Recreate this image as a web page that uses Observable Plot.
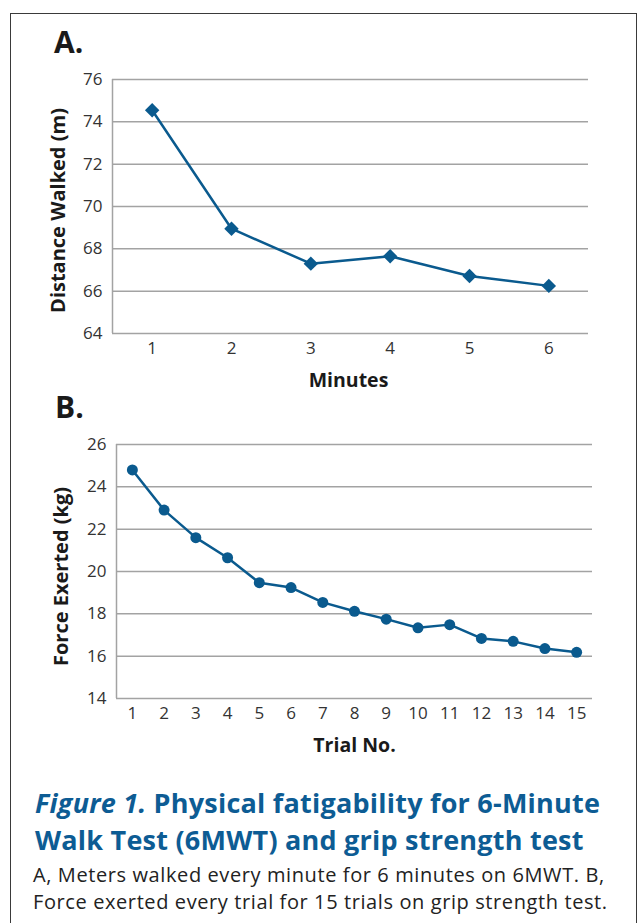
<!DOCTYPE html>
<html>
<head>
<meta charset="utf-8">
<script src="https://cdn.jsdelivr.net/npm/d3@7"></script>
<script src="https://cdn.jsdelivr.net/npm/@observablehq/plot@0.6"></script>
<style>
  html, body { margin: 0; padding: 0; background: #fff; }
  #page { position: relative; width: 642px; height: 923px; overflow: hidden; font-family: "Open Sans", sans-serif; }
  #frame { position: absolute; left: 10px; top: 13px; width: 625px; height: 1000px; border: 1.5px solid #3a3a3a; border-bottom: none; }
  .panel { position: absolute; font-weight: 700; font-size: 30px; line-height: 30px; color: #1a1a1a; }
  .chart { position: absolute; left: 0; }
  #title { position: absolute; left: 35px; top: 784px; font-size: 27px; line-height: 37px; letter-spacing: 0.23px; font-weight: 700; color: #0d5c94; white-space: nowrap; }
  #body { position: absolute; left: 33px; top: 861px; font-size: 20px; line-height: 27.3px; letter-spacing: 0.6px; color: #222; white-space: nowrap; }
</style>
</head>
<body>
<div id="page">
  <div id="frame"></div>
  <div class="panel" style="left:54px; top:27px;">A.</div>
  <div class="chart" id="chartA" style="top:60px;"></div>
  <div class="panel" style="left:55px; top:391.5px;">B.</div>
  <div class="chart" id="chartB" style="top:425px;"></div>
  <div id="title"><i>Figure 1.</i> Physical fatigability for 6-Minute<br>Walk Test (6MWT) and grip strength test</div>
  <div id="body">A, Meters walked every minute for 6 minutes on 6MWT. B,<br>Force exerted every trial for 15 trials on grip strength test.</div>
</div>
<script>
// Panel A data
const minutes = [1, 2, 3, 4, 5, 6];
const distance = [74.55, 68.95, 67.3, 67.65, 66.72, 66.25];
const distanceTicks = [64, 66, 68, 70, 72, 74, 76];
// Panel B data
const trials = [1, 2, 3, 4, 5, 6, 7, 8, 9, 10, 11, 12, 13, 14, 15];
const force = [24.8, 22.9, 21.6, 20.65, 19.47, 19.24, 18.54, 18.12, 17.75, 17.34, 17.49, 16.84, 16.7, 16.36, 16.18];
const forceTicks = [14, 16, 18, 20, 22, 24, 26];

const blue = "#0a5a8e";
const gridGray = "#a3a3a3";
const style = { fontFamily: "'Open Sans', sans-serif", fontSize: "17px", color: "#333", background: "transparent", overflow: "visible" };

const dataA = minutes.map((m, i) => ({ x: m, y: distance[i] }));
const dataB = trials.map((t, i) => ({ x: t, y: force[i] }));

const chartA = Plot.plot({
  width: 642, height: 340,
  marginLeft: 112, marginRight: 54, marginTop: 19, marginBottom: 67,
  style,
  x: { domain: [0.5, minutes.length + 0.5] },
  y: { domain: [distanceTicks[0], distanceTicks[distanceTicks.length - 1]] },
  marks: [
    Plot.gridY({ ticks: distanceTicks, stroke: gridGray, strokeOpacity: 1, strokeWidth: 1.5 }),
    Plot.ruleX([0.5], { stroke: gridGray, strokeWidth: 1.5 }),
    Plot.axisY({ ticks: distanceTicks, tickSize: 0, tickPadding: 10, label: null, fill: "#333" }),
    Plot.axisX({ ticks: minutes, tickSize: 0, tickPadding: 8, label: null, tickFormat: d => String(d), fill: "#333" }),
    Plot.text(["Distance Walked (m)"], { frameAnchor: "left", textAnchor: "middle", rotate: -90, dx: -54, dy: 4, fontWeight: "bold", fontSize: 20, fill: "#1a1a1a" }),
    Plot.text(["Minutes"], { frameAnchor: "bottom", dy: 47, dx: -2, lineAnchor: "middle", fontWeight: "bold", fontSize: 19.5, fill: "#1a1a1a" }),
    Plot.line(dataA, { x: "x", y: "y", stroke: blue, strokeWidth: 2.5 }),
    Plot.dot(dataA, { x: "x", y: "y", symbol: "diamond2", r: 6.5, fill: blue, stroke: "none" })
  ]
});
document.getElementById("chartA").appendChild(chartA);

const chartB = Plot.plot({
  width: 642, height: 335,
  marginLeft: 116, marginRight: 50, marginTop: 19, marginBottom: 62,
  style,
  x: { domain: [0.5, trials.length + 0.5] },
  y: { domain: [forceTicks[0], forceTicks[forceTicks.length - 1]] },
  marks: [
    Plot.gridY({ ticks: forceTicks, stroke: gridGray, strokeOpacity: 1, strokeWidth: 1.5 }),
    Plot.ruleX([0.5], { stroke: gridGray, strokeWidth: 1.5 }),
    Plot.axisY({ ticks: forceTicks, tickSize: 0, tickPadding: 10, label: null, fill: "#333" }),
    Plot.axisX({ ticks: trials, tickSize: 0, tickPadding: 8, label: null, tickFormat: d => String(d), fill: "#333" }),
    Plot.text(["Force Exerted (kg)"], { frameAnchor: "left", textAnchor: "middle", rotate: -90, dx: -54.5, dy: 5, fontWeight: "bold", fontSize: 20, fill: "#1a1a1a" }),
    Plot.text(["Trial No."], { frameAnchor: "bottom", dy: 47, lineAnchor: "middle", fontWeight: "bold", fontSize: 19.5, fill: "#1a1a1a" }),
    Plot.line(dataB, { x: "x", y: "y", stroke: blue, strokeWidth: 2.5 }),
    Plot.dot(dataB, { x: "x", y: "y", r: 5.5, fill: blue, stroke: "none" })
  ]
});
document.getElementById("chartB").appendChild(chartB);
</script>
</body>
</html>
